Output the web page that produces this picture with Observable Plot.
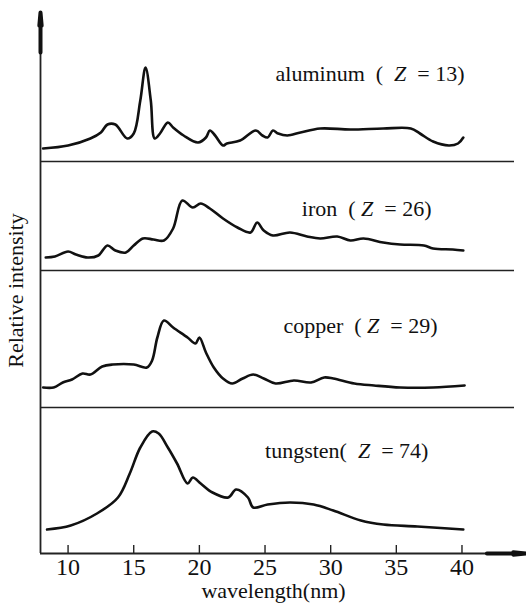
<!DOCTYPE html>
<html>
<head>
<meta charset="utf-8">
<script src="https://cdn.jsdelivr.net/npm/d3@7"></script>
<script src="https://cdn.jsdelivr.net/npm/@observablehq/plot@0.6"></script>
<style>
  html, body { margin: 0; padding: 0; background: #fff; }
  #chart svg { display: block; }
  .elabel text { white-space: pre; }
</style>
</head>
<body>
<div id="chart"></div>
<script>
// Wavelength (nm) and relative intensity (arbitrary units) for each element
const elements = ["aluminum", "iron", "copper", "tungsten"];
const atomicNumbers = [13, 26, 29, 74];

const aluminumWl = [8.1, 10.0, 11.7, 12.5, 13.0, 13.6, 14.5, 15.0, 15.5, 15.9, 16.3, 16.6, 17.0, 17.6, 18.0, 18.8, 19.9, 20.5, 20.8, 21.2, 21.8, 22.1, 23.1, 24.3, 24.8, 25.2, 25.6, 26.0, 26.7, 27.7, 29.2, 31.5, 34.0, 36.1, 36.8, 37.8, 39.0, 39.7, 40.1];
const aluminumI  = [13, 16, 23, 29, 37, 37, 23, 28, 61, 94, 61, 23, 28, 39, 34, 26, 19, 24, 31, 26, 16, 18, 21, 31, 26, 24, 31, 28, 26, 29, 33, 32, 33, 33, 28, 20, 16, 18, 24];

const ironWl = [8.3, 9.0, 10.0, 10.6, 11.5, 12.3, 13.0, 13.6, 14.4, 15.0, 15.7, 16.5, 17.3, 18.0, 18.7, 19.5, 20.1, 20.8, 21.8, 22.9, 23.9, 24.4, 24.9, 25.6, 26.9, 28.2, 29.2, 30.5, 31.5, 32.5, 34.0, 35.3, 37.1, 37.8, 39.3, 40.1];
const ironI  = [13, 14, 19, 16, 13, 15, 25, 20, 18, 25, 32, 31, 30, 42, 70, 63, 67, 62, 52, 43, 38, 48, 40, 35, 38, 34, 32, 34, 30, 32, 28, 26, 25, 22, 21, 20];

const copperWl = [8.1, 8.9, 9.6, 10.3, 11.1, 11.7, 12.6, 13.4, 15.0, 16.0, 16.4, 16.8, 17.3, 18.0, 19.1, 19.7, 20.0, 20.5, 21.1, 21.8, 22.5, 23.3, 24.1, 24.9, 25.8, 27.2, 28.5, 29.5, 30.2, 31.8, 33.3, 35.3, 37.8, 40.2];
const copperI  = [20, 20, 25, 28, 34, 33, 41, 43, 43, 40, 47, 70, 87, 80, 70, 64, 70, 55, 40, 29, 24, 29, 33, 29, 24, 27, 25, 30, 29, 24, 22, 20, 20, 22];

const tungstenWl = [8.4, 10.2, 12.2, 13.8, 14.7, 15.5, 16.4, 16.9, 17.6, 18.3, 19.1, 19.5, 20.1, 21.0, 22.2, 22.8, 23.7, 24.1, 25.2, 26.9, 28.7, 30.2, 32.3, 34.0, 36.6, 40.1];
const tungstenI  = [24, 28, 40, 56, 80, 106, 122, 120, 106, 90, 70, 76, 70, 61, 56, 64, 56, 46, 49, 51, 49, 43, 33, 29, 27, 24];

const xTicks = [10, 15, 20, 25, 30, 35, 40];

// ---- build table ----
const series = {
  aluminum: [aluminumWl, aluminumI],
  iron: [ironWl, ironI],
  copper: [copperWl, copperI],
  tungsten: [tungstenWl, tungstenI]
};
const spectra = elements.flatMap(el => series[el][0].map((w, i) => ({element: el, wl: w, intensity: series[el][1][i]})));

// layout: vertical stacking of the panels (baseline of each panel)
const base = {aluminum: 392, iron: 283, copper: 146, tungsten: 0};
const labelLayout = {
  aluminum: {x: 25.8, dy: 88, text: z => `aluminum  (  Z  = ${z})`},
  iron:     {x: 27.8, dy: 62, text: z => `iron  ( Z  = ${z})`},
  copper:   {x: 26.4, dy: 82, text: z => `copper  ( Z  = ${z})`},
  tungsten: {x: 25.0, dy: 103, text: z => `tungsten(  Z  = ${z})`}
};
const labels = elements.map((el, i) => ({element: el, z: atomicNumbers[i]}));

const xMin = 7.9, xMax = 44, yTop = 541, xArrowEnd = 44.9;
const font = "'Liberation Serif', 'DejaVu Serif', serif";

const chart = Plot.plot({
  width: 526,
  height: 606,
  marginLeft: 40,
  marginRight: 12,
  marginTop: 0,
  marginBottom: 53,
  x: {domain: [xMin, xMax]},
  y: {domain: [0, 553], axis: null},
  style: {fontFamily: font, color: "#111", background: "#fff"},
  marks: [
    // panel separators
    Plot.ruleY(elements.filter(el => base[el] > 0), {y: el => base[el], x1: xMin, x2: xMax, stroke: "#222", strokeWidth: 1.6}),
    // vertical axis with arrow
    Plot.ruleX([xMin], {y1: 0, y2: yTop, stroke: "#222", strokeWidth: 1.8}),
    Plot.arrow([0], {x1: xMin, x2: xMin, y1: yTop - 40, y2: yTop, headLength: 32, headAngle: 10, stroke: "#111", strokeWidth: 4}),
    // horizontal axis with arrow
    Plot.ruleY([0], {x1: xMin, x2: xArrowEnd, stroke: "#222", strokeWidth: 1.8}),
    Plot.arrow([0], {x1: xArrowEnd - 3, x2: xArrowEnd, y1: 0, y2: 0, headLength: 28, headAngle: 10, stroke: "#111", strokeWidth: 4}),
    // inward ticks
    Plot.ruleX(xTicks, {x: d => d, y1: 0, y2: 8, stroke: "#222", strokeWidth: 1.4}),
    Plot.axisX(xTicks, {tickSize: 0, tickPadding: 4, fontSize: 24, label: null, tickFormat: d => String(d)}),
    Plot.text(["wavelength(nm)"], {frameAnchor: "bottom", dy: 44, dx: -4, fontSize: 22, letterSpacing: 2.6}),
    Plot.text(["Relative intensity"], {x: xMin, y: 263, dx: -25, rotate: -90, fontSize: 22, letterSpacing: 2.3}),
    // spectra
    Plot.line(spectra, {
      x: "wl",
      y: d => base[d.element] + d.intensity,
      z: "element",
      curve: "catmull-rom",
      stroke: "#111",
      strokeWidth: 2.6
    }),
    // element labels
    Plot.text(labels, {
      x: d => labelLayout[d.element].x,
      y: d => base[d.element] + labelLayout[d.element].dy,
      text: d => labelLayout[d.element].text(d.z),
      textAnchor: "start",
      fontSize: 22,
      letterSpacing: 1.5,
      className: "elabel"
    })
  ]
});

// italic Z in labels
chart.querySelectorAll(".elabel text").forEach(t => {
  const s = t.textContent;
  const idx = s.indexOf("Z");
  if (idx >= 0) {
    t.textContent = "";
    const ns = "http://www.w3.org/2000/svg";
    const a = document.createElementNS(ns, "tspan"); a.textContent = s.slice(0, idx);
    const b = document.createElementNS(ns, "tspan"); b.textContent = "Z"; b.setAttribute("font-style", "italic");
    const c = document.createElementNS(ns, "tspan"); c.textContent = s.slice(idx + 1);
    t.append(a, b, c);
  }
});

document.getElementById("chart").appendChild(chart);
</script>
</body>
</html>
